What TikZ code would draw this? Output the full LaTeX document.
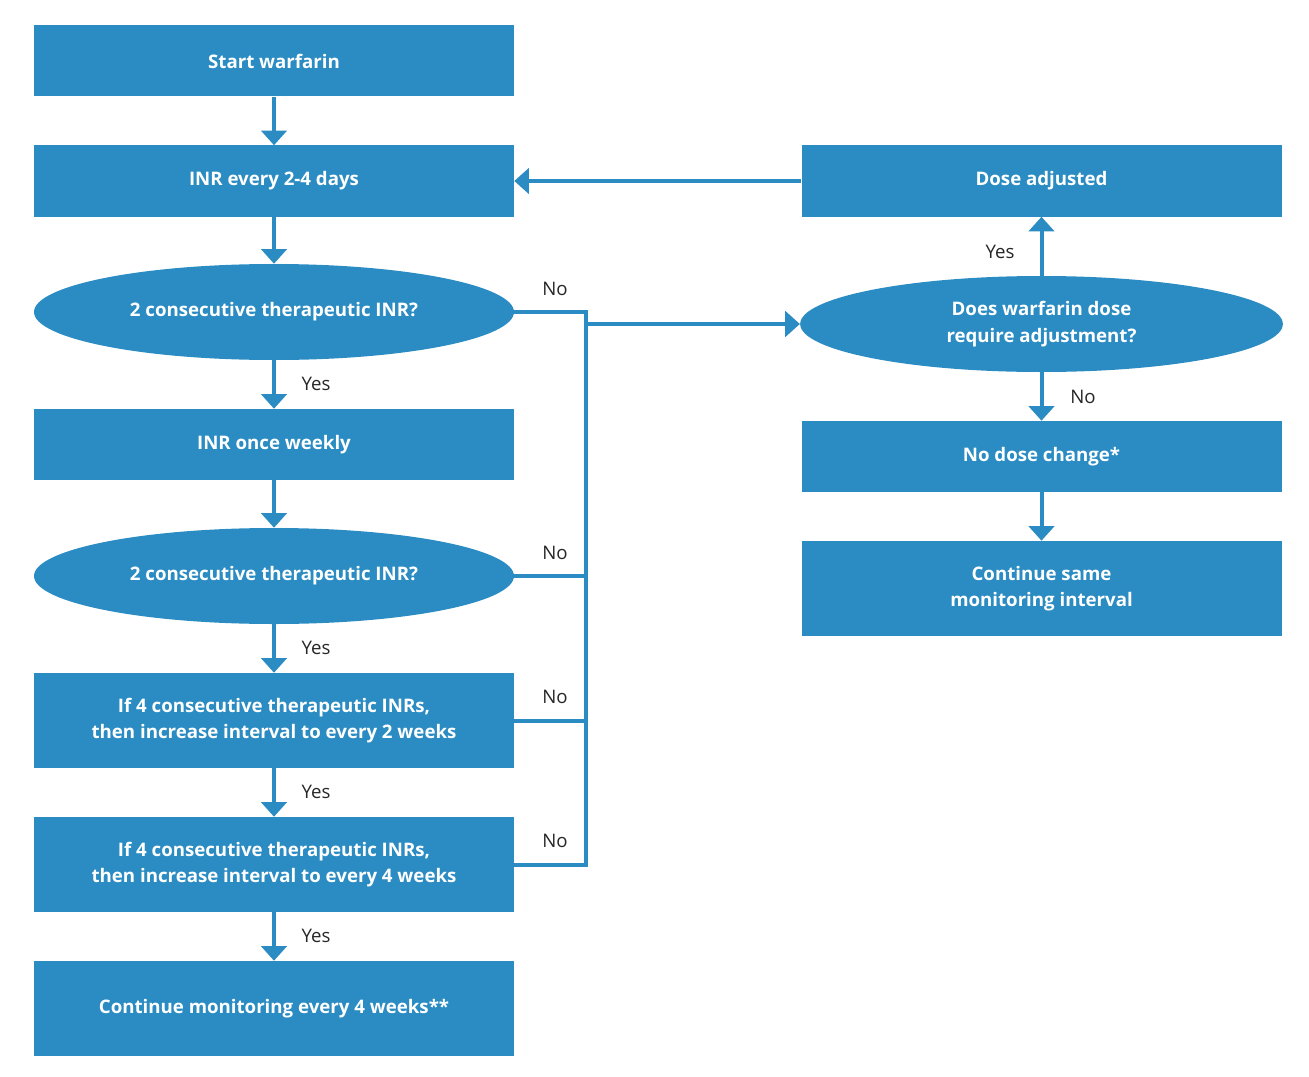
\documentclass[tikz,border=0pt]{standalone}
\usepackage{fontspec}
\setmainfont{Open Sans}
\usepackage{tikz}
\usetikzlibrary{arrows.meta,shapes.geometric}
\definecolor{flowBlue}{RGB}{42,140,194}

\begin{document}
\begin{tikzpicture}[x=0.75pt,y=-0.75pt,
    box/.style={fill=flowBlue,text=white,font=\fontsize{14}{20}\selectfont\bfseries,
      minimum width=360pt,minimum height=53.25pt,align=center,inner sep=0pt},
    tallbox/.style={box,minimum height=71.25pt},
    decision/.style={ellipse,fill=flowBlue,text=white,font=\fontsize{14}{20}\selectfont\bfseries,
      minimum width=360pt,minimum height=72pt,align=center,inner sep=0pt},
    flow/.style={draw=flowBlue,line width=3pt,-{Triangle[width=19pt,length=11pt]}},
    bus/.style={draw=flowBlue,line width=3pt},
    lbl/.style={font=\fontsize{14}{17}\selectfont,text=black!85}]
  \useasboundingbox (0,0) rectangle (1309,1077);
  % left column
  \node[box] (start) at (274,61) {Start warfarin};
  \node[box] (inrA) at (274,181) {INR every 2-4 days};
  \node[decision] (decA) at (274,312) {2 consecutive therapeutic INR?};
  \node[box] (inrB) at (274,444.5) {INR once weekly};
  \node[decision] (decB) at (274,576) {2 consecutive therapeutic INR?};
  \node[tallbox] (twoWk) at (274,720.5) {If 4 consecutive therapeutic INRs,\\then increase interval to every 2 weeks};
  \node[tallbox] (fourWk) at (274,864.5) {If 4 consecutive therapeutic INRs,\\then increase interval to every 4 weeks};
  \node[tallbox] (cont) at (274,1008.5) {Continue monitoring every 4 weeks**};
  % right column
  \node[box] (adj) at (1041.5,181) {Dose adjusted};
  \node[decision,minimum width=362pt] (decC) at (1041.5,324) {Does warfarin dose\\require adjustment?};
  \node[box] (same) at (1041.5,456.5) {No dose change*};
  \node[tallbox] (keep) at (1041.5,588.5) {Continue same\\monitoring interval};
  \coordinate (busx) at (586,0);

  \draw[flow] (start) -- (inrA);
  \draw[flow] (inrA) -- (decA);
  \draw[flow] (decA) -- (inrB);
  \draw[flow] (inrB) -- (decB);
  \draw[flow] (decB) -- (twoWk);
  \draw[flow] (twoWk) -- (fourWk);
  \draw[flow] (fourWk) -- (cont);
  \draw[flow] (adj) -- (inrA);
  \draw[flow] (decC) -- (adj);
  \draw[flow] (decC) -- (same);
  \draw[flow] (same) -- (keep);
  % "No" branches gathered on one vertical line
  \draw[bus] (decA.east) -- (decA.east -| busx) |- (fourWk.east);
  \foreach \n in {decB,twoWk}
    \draw[bus] (\n.east) -- (\n.east -| busx);
  \draw[flow] (busx |- decC.west) -- (decC.west);

  \foreach \y in {384,648,792,936}
    \node[lbl] at (316,\y) {Yes};
  \foreach \y in {289,553,697,841}
    \node[lbl] at (555,\y) {No};
  \node[lbl] at (1000,252) {Yes};
  \node[lbl] at (1083,397) {No};
\end{tikzpicture}
\end{document}
